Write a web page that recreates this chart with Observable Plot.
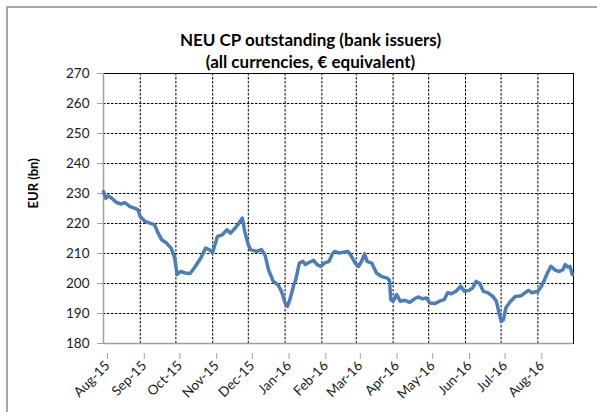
<!DOCTYPE html>
<html>
<head>
<meta charset="utf-8">
<script src="https://cdn.jsdelivr.net/npm/d3@7"></script>
<script src="https://cdn.jsdelivr.net/npm/@observablehq/plot@0.6"></script>
<style>
  html, body { margin: 0; padding: 0; background: #fff; overflow: hidden; }
  #wrap { position: relative; width: 597px; height: 412px; }
  #border { position: absolute; left: 6px; top: 6px; width: 700px; height: 600px;
            border-left: 2px solid #a6a6a6; border-top: 2px solid #a6a6a6; pointer-events: none; }
</style>
</head>
<body>
<div id="wrap"><div id="border"></div></div>
<script>
const titleLines = ["NEU CP outstanding (bank issuers)", "(all currencies, € equivalent)"];
const yLabel = "EUR (bn)";
const yTicks = [180, 190, 200, 210, 220, 230, 240, 250, 260, 270];
const monthTicks = ["2015-08-01","2015-09-01","2015-10-01","2015-11-01","2015-12-01","2016-01-01",
  "2016-02-01","2016-03-01","2016-04-01","2016-05-01","2016-06-01","2016-07-01","2016-08-01"];
const xDomain = ["2015-08-01", "2016-08-31"];

const dates = [
  "2015-08-01","2015-08-03","2015-08-05","2015-08-08","2015-08-12","2015-08-16","2015-08-19","2015-08-23","2015-08-27","2015-08-30",
  "2015-09-01","2015-09-05","2015-09-09","2015-09-13","2015-09-16","2015-09-19","2015-09-23","2015-09-27","2015-09-30",
  "2015-10-02","2015-10-05","2015-10-09","2015-10-13","2015-10-17","2015-10-22","2015-10-26","2015-10-29",
  "2015-11-01","2015-11-05","2015-11-09","2015-11-13","2015-11-16","2015-11-20","2015-11-23","2015-11-26","2015-11-28",
  "2015-12-01","2015-12-03","2015-12-08","2015-12-12","2015-12-15","2015-12-18","2015-12-22","2015-12-26","2015-12-29",
  "2016-01-01","2016-01-03","2016-01-05","2016-01-08","2016-01-10","2016-01-13","2016-01-16","2016-01-18","2016-01-21","2016-01-25","2016-01-28","2016-01-31",
  "2016-02-03","2016-02-07","2016-02-10","2016-02-12","2016-02-15","2016-02-19","2016-02-23","2016-02-26","2016-02-29",
  "2016-03-03","2016-03-06","2016-03-08","2016-03-10","2016-03-14","2016-03-18","2016-03-22","2016-03-27","2016-03-29","2016-03-30",
  "2016-04-01","2016-04-04","2016-04-07","2016-04-11","2016-04-15","2016-04-19","2016-04-22","2016-04-26","2016-04-29",
  "2016-05-02","2016-05-06","2016-05-10","2016-05-14","2016-05-17","2016-05-20","2016-05-24","2016-05-28","2016-05-31",
  "2016-06-04","2016-06-07","2016-06-10","2016-06-13","2016-06-16","2016-06-20","2016-06-24","2016-06-27","2016-06-29",
  "2016-07-01","2016-07-03","2016-07-05","2016-07-09","2016-07-13","2016-07-18","2016-07-20","2016-07-24","2016-07-27",
  "2016-08-01","2016-08-04","2016-08-06","2016-08-09","2016-08-12","2016-08-16","2016-08-19","2016-08-22","2016-08-24","2016-08-26","2016-08-28","2016-08-30"
];
const values = [
  230.6,228.4,229.2,228.4,227.0,226.5,227.0,225.7,225.1,224.6,
  222.3,220.7,220.1,219.6,216.8,214.6,213.5,211.8,208.5,
  203.0,204.0,203.5,203.3,205.5,208.5,211.8,211.3,
  210.4,215.7,216.2,217.9,216.8,218.5,220.1,221.8,217.3,
  212.9,211.3,210.7,211.3,209.6,204.6,200.7,199.6,197.4,
  193.5,192.4,194.6,199.1,201.3,206.8,207.4,206.3,207.0,207.7,206.3,205.7,
  206.8,207.4,210.0,210.7,210.2,210.4,210.7,209.0,206.8,
  205.7,207.9,209.9,207.4,206.8,203.5,202.4,201.8,201.0,194.6,
  194.1,196.3,194.1,194.4,193.7,194.9,195.5,194.9,195.2,
  193.5,193.3,194.1,194.6,196.9,196.6,197.4,199.1,197.4,
  197.7,198.5,200.7,200.0,197.4,196.9,195.7,194.1,190.7,
  187.4,188.0,191.9,194.1,195.7,195.9,196.6,197.7,196.9,
  197.4,199.1,200.7,203.5,205.7,204.4,204.0,204.6,206.3,205.5,205.7,203.0
];

const parse = d3.utcParse("%Y-%m-%d");
const data = dates.map((d, i) => ({date: parse(d), value: values[i]}));
const months = monthTicks.map(parse);
const dom = xDomain.map(parse);

const chart = Plot.plot({
  width: 597,
  height: 412,
  marginLeft: 103,
  marginRight: 24,
  marginTop: 73,
  marginBottom: 69,
  style: {fontFamily: "Lato, 'Open Sans', sans-serif", fontSize: "13px", color: "#1a1a1a", background: "transparent"},
  x: {type: "utc", domain: dom},
  y: {domain: [yTicks[0], yTicks[yTicks.length - 1]]},
  marks: [
    Plot.gridY(yTicks.slice(1, -1), {stroke: "#000", strokeOpacity: 1, strokeWidth: 1, strokeDasharray: "2.5,1.5"}),
    Plot.gridX(months.slice(1), {stroke: "#000", strokeOpacity: 1, strokeWidth: 1, strokeDasharray: "2.5,1.5"}),
    Plot.frame({stroke: "#000", strokeWidth: 1}),
    Plot.ruleY([yTicks[0]], {stroke: "#a0a0a0", strokeWidth: 1.5}),
    Plot.ruleX([dom[0]], {stroke: "#a0a0a0", strokeWidth: 1.5}),
    Plot.axisY(yTicks, {tickSize: 6, tickPadding: 8, stroke: "#a0a0a0", label: null, fontSize: 13.5}),
    Plot.axisX(months, {tickSize: 6, tickPadding: 4, tickRotate: -45, stroke: "#a0a0a0", tickFormat: d3.utcFormat("%b-%y"), label: null, fontSize: 13.5, dx: 4, dy: 10}),
    Plot.line(data, {x: "date", y: "value", stroke: "#4a7ebb", strokeWidth: 3.5, strokeLinejoin: "round", curve: "linear"}),
    Plot.text([yLabel], {frameAnchor: "left", dx: -70, rotate: -90, fontWeight: "bold", fontSize: 13, fill: "#000"}),
    Plot.text([titleLines[0]], {frameAnchor: "top", lineAnchor: "middle", dx: -28, dy: -33, fontWeight: "bold", fontSize: 17, fill: "#000"}),
    Plot.text([titleLines[1]], {frameAnchor: "top", lineAnchor: "middle", dx: -28, dy: -11, fontWeight: "bold", fontSize: 17, fill: "#000"})
  ]
});
document.getElementById("wrap").appendChild(chart);
chart.style.position = "absolute";
chart.style.left = "0";
chart.style.top = "0";
</script>
</body>
</html>
